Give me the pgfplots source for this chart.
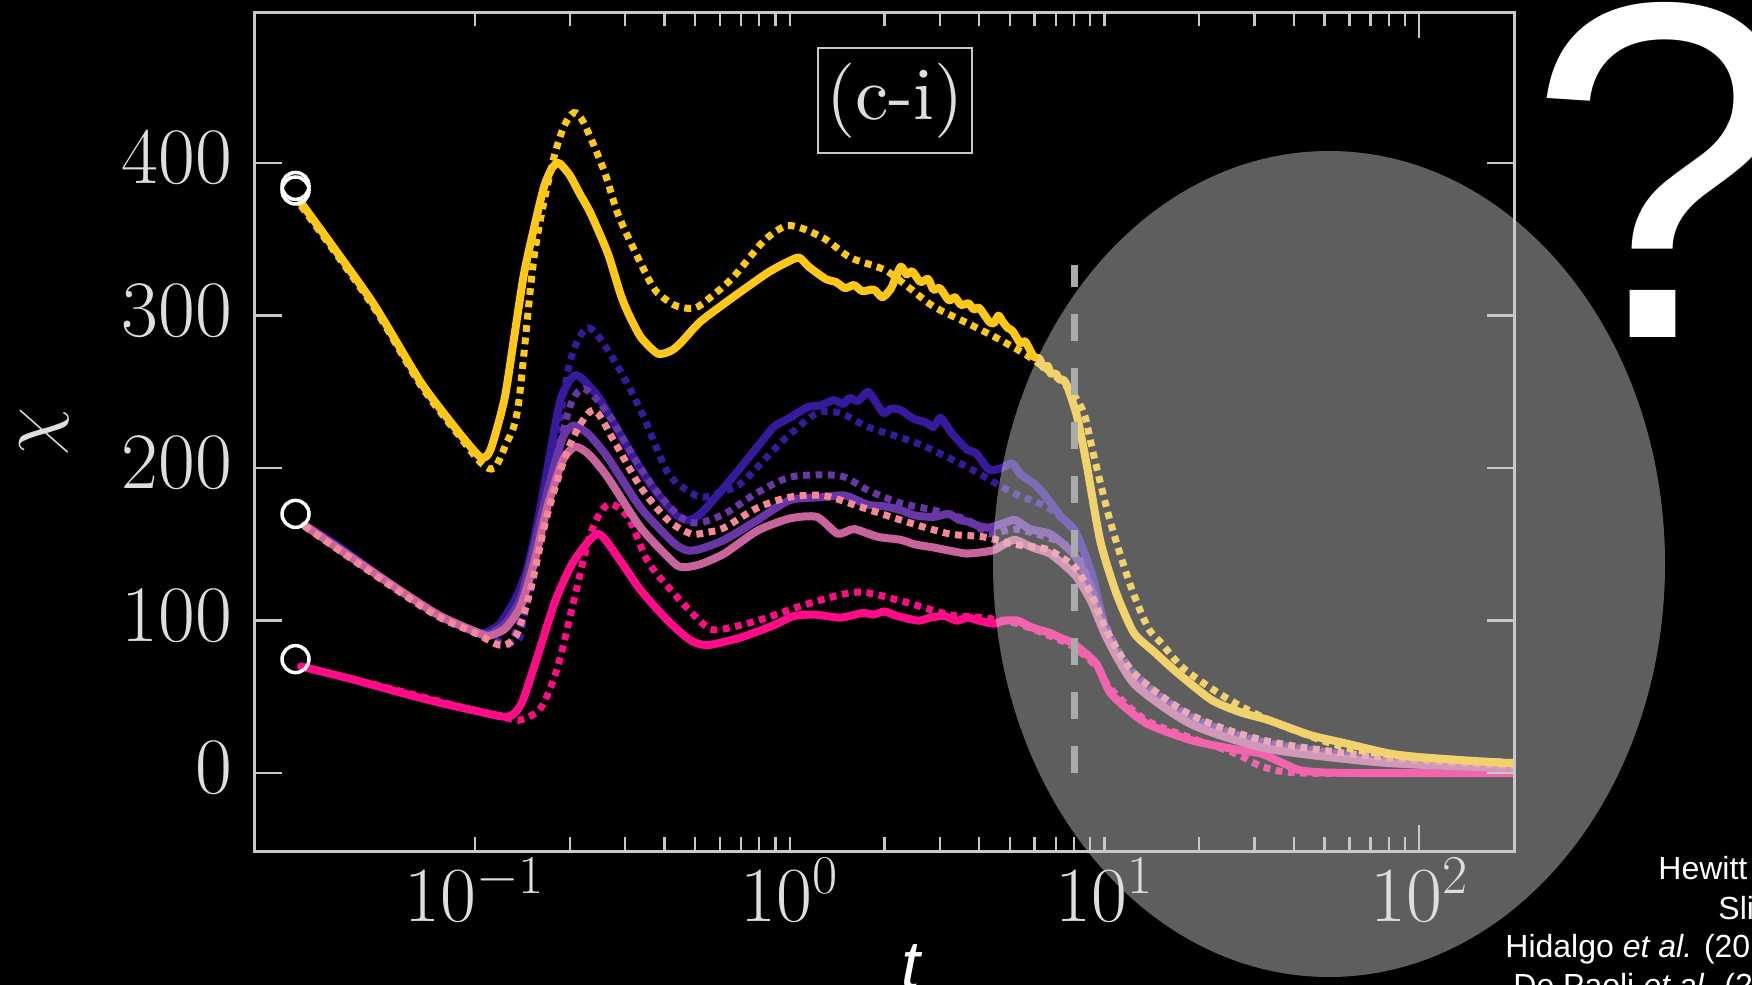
\RequirePackage{fix-cm}
\documentclass[border=0pt]{standalone}
\usepackage{fontspec}
\usepackage{pgfplots}
\pgfplotsset{compat=1.18}
\newfontfamily\arialfont{Liberation Sans}
\newfontfamily\lmten{lmroman10-regular}[Extension=.otf]
\definecolor{cYel}{RGB}{255,200,25}
\definecolor{cInd}{RGB}{55,25,155}
\definecolor{cPur}{RGB}{105,55,165}
\definecolor{cMau}{RGB}{200,100,155}
\definecolor{cLpk}{RGB}{245,135,150}
\definecolor{cHpk}{RGB}{255,10,135}
\definecolor{cAx}{RGB}{200,200,200}
\definecolor{cTxt}{RGB}{222,222,222}
\definecolor{cDash}{RGB}{170,170,170}
\definecolor{cEll}{RGB}{225,225,225}
\pgfplotsset{
  mybase/.style={
    at={(127.5pt,-425.5pt)}, anchor=south west,
    scale only axis, width=629.5pt, height=419.5pt,
    xmin=0.02, xmax=200, ymin=-51, ymax=499,
  },
  sol/.style={smooth, tension=0.4, line width=4pt, line join=round, line cap=round},
  dot/.style={smooth, line width=3.5pt, dash pattern=on 3.4pt off 2.8pt},
}
\begin{document}
\begin{tikzpicture}
\fill[black] (0,0) rectangle (876pt,-492.5pt);
\useasboundingbox (0,0) rectangle (876pt,-492.5pt);
\begin{semilogxaxis}[mybase, hide axis]
% hot pink dotted
\addplot[cHpk, dot] coordinates {(0.028,70) (0.055,55) (0.1,41) (0.127,36) (0.14,35) (0.162,43) (0.183,69.5) (0.206,113) (0.233,157) (0.264,176) (0.306,168) (0.354,139) (0.428,118) (0.53,98) (0.59,94) (0.79,100) (1.14,111) (1.64,118.7) (2.25,113) (3.2,104) (4.1,102) (5.3,98) (6.7,90) (7.95,83) (9.4,70) (10.5,55) (13.5,35) (18.9,23) (26,13) (29,8) (32,4) (37,1) (45,0) (76,0) (200,0)};
% hot pink solid
\addplot[cHpk, sol] coordinates {(0.028,70) (0.04,62) (0.06,52) (0.078,46) (0.1,41) (0.127,37) (0.14,45) (0.154,69.5) (0.18,113) (0.206,139) (0.246,157) (0.29,139) (0.336,120) (0.41,100) (0.485,87) (0.55,84) (0.70,89) (0.89,97) (1.03,103) (1.2,104) (1.45,102) (1.7,105) (1.85,104) (2.0,106) (2.2,103) (2.56,100) (2.8,102) (3.1,103) (3.4,100) (3.67,102) (4.0,100) (4.45,98) (4.8,100) (5.3,100) (5.8,96) (6.2,94) (6.7,92) (7.2,89) (7.95,85) (9.4,72) (10.5,52) (13.5,33) (18.9,21.6) (27,15) (31.3,13) (37,6.5) (41.6,2) (50,0.5) (76,0) (200,0)};
% indigo dotted
\addplot[cInd, dot] coordinates {(0.0287,162) (0.053,124) (0.076,103) (0.1,93) (0.12,86) (0.137,87) (0.143,102) (0.162,157) (0.18,212) (0.2,269) (0.229,292) (0.276,271) (0.336,238) (0.41,197) (0.485,184) (0.53,181) (0.6,184) (0.70,190) (0.89,212) (1.0,222) (1.22,236) (1.45,236) (1.77,227) (2.56,216) (3.67,200.6) (5.1,184) (6.5,175) (7.5,165) (8.2,155) (9.1,130) (10.2,95) (12.5,63) (18.9,36) (33,19) (76,9) (200,4)};
% indigo solid
\addplot[cInd, sol] coordinates {(0.0287,162.6) (0.0367,149) (0.053,125) (0.076,104) (0.097,94) (0.107,92) (0.12,98) (0.135,115) (0.147,135) (0.16,170) (0.17,200) (0.187,245) (0.209,261) (0.246,247) (0.297,218) (0.354,192) (0.428,170.5) (0.474,166) (0.52,170) (0.62,187.5) (0.79,214) (0.89,227) (1.0,233) (1.14,240) (1.25,241) (1.38,244.6) (1.48,242) (1.55,246) (1.65,244) (1.77,250) (1.88,243) (1.99,236) (2.1,239) (2.25,238) (2.4,234) (2.5,232) (2.7,230) (2.86,227) (3.0,233) (3.1,230) (3.3,222) (3.67,212) (3.9,210) (4.3,199) (4.7,200) (5.1,203) (5.4,196) (5.96,190) (6.3,185) (6.7,178) (7.3,168) (8.1,158) (9.1,131) (10.2,92) (12.5,59) (18.9,33) (33,17) (76,7) (200,3.3)};
% purple dotted
\addplot[cPur, dot] coordinates {(0.0287,162) (0.053,124) (0.076,103) (0.1,92) (0.12,85) (0.13,86) (0.145,110) (0.16,150) (0.18,200) (0.2,240) (0.222,252) (0.264,236) (0.32,207) (0.38,184) (0.45,168) (0.51,164) (0.62,170) (0.79,184) (1.0,194) (1.28,195.6) (1.5,194) (1.77,185.6) (2.25,177) (2.86,172.5) (3.67,166) (4.3,157) (5.2,160) (6.5,155) (7.5,150) (8.2,143) (9.1,122) (10.2,94) (12.5,65) (18.9,37) (33,20) (76,10) (200,4.5)};
% purple solid
\addplot[cPur, sol] coordinates {(0.0287,162.6) (0.053,125) (0.076,104) (0.097,94) (0.11,91) (0.125,98) (0.14,115) (0.155,150) (0.17,185) (0.19,220) (0.206,228) (0.23,222) (0.264,207) (0.336,174) (0.428,151) (0.474,146) (0.52,147) (0.62,153) (0.79,166) (1.0,179) (1.28,181) (1.5,182) (1.77,176) (2.0,175) (2.25,172.5) (2.5,169) (2.86,168) (3.2,170) (3.45,166) (3.67,165) (4.0,162) (4.3,161) (4.8,164) (5.2,166) (5.8,160) (6.7,157) (7.6,148) (8.2,140) (9.1,120) (10.2,90) (12.5,60) (18.9,33) (33,17) (76,7.5) (200,3.5)};
% mauve solid
\addplot[cMau, sol] coordinates {(0.0287,162.6) (0.053,125) (0.076,104) (0.097,94) (0.11,90) (0.125,95) (0.14,110) (0.155,140) (0.17,175) (0.19,205) (0.208,214) (0.23,209) (0.264,194) (0.336,161) (0.428,138) (0.46,135) (0.52,137) (0.62,144) (0.79,159) (1.0,167) (1.22,168) (1.42,157) (1.6,160) (1.9,155) (2.25,153) (2.5,150) (2.86,148) (3.2,146) (3.67,144) (4.4,146) (4.8,150) (5.2,153) (5.9,148) (6.7,144) (7.6,135) (8.2,128) (9.1,112) (10.2,88) (12.5,58) (18.9,32) (33,16) (76,7) (200,3)};
% light pink dotted
\addplot[cLpk, dot] coordinates {(0.0287,162) (0.053,124) (0.076,103) (0.1,92) (0.12,84) (0.135,90) (0.15,120) (0.17,170) (0.2,215) (0.237,238) (0.276,218) (0.336,187.5) (0.41,166) (0.485,157) (0.55,158) (0.62,161) (0.79,174) (1.0,181) (1.28,182) (1.6,176) (2.25,166) (3.2,157) (4.1,155) (5.2,150) (6.5,147) (7.5,140) (8.2,133) (9.1,117) (10.2,93) (12.5,65) (18.9,38) (33,21) (76,10.5) (200,5)};
% yellow dotted
\addplot[cYel, dot] coordinates {(0.028,372) (0.0468,308) (0.0674,254) (0.09,220) (0.105,203) (0.115,200) (0.125,215) (0.137,240) (0.154,338) (0.174,395) (0.19,422) (0.206,433) (0.222,426) (0.257,395) (0.284,367) (0.324,341) (0.367,319) (0.395,312) (0.44,306) (0.5,305) (0.56,312) (0.66,325) (0.81,347) (0.9,355) (0.986,359) (1.1,357) (1.3,350) (1.56,338) (2.0,330) (2.37,319) (2.86,306) (3.67,295) (4.67,284) (5.96,271) (7.64,253) (8.6,236) (9.2,210) (10.4,166) (12.0,125) (13.7,96) (15.2,85) (18,68) (25,48) (35,33) (58,17) (100,10) (200,7)};
% yellow solid
\addplot[cYel, sol] coordinates {(0.028,374) (0.0468,310) (0.0674,256) (0.09,222) (0.1045,207) (0.112,212) (0.124,245) (0.133,285) (0.143,327) (0.155,360) (0.166,385) (0.176,397) (0.185,400) (0.2,392) (0.215,380) (0.233,367) (0.264,341) (0.29,314) (0.306,302) (0.336,286) (0.381,275) (0.42,277) (0.45,282) (0.52,296) (0.66,312) (0.85,328) (0.98,335) (1.07,338) (1.15,332) (1.3,324) (1.4,322) (1.5,318) (1.6,320) (1.7,316) (1.85,317) (1.97,312) (2.1,318) (2.25,332) (2.35,327) (2.45,329) (2.6,322) (2.75,324) (2.86,317) (3.0,318) (3.2,310) (3.35,312) (3.5,307) (3.7,308) (3.84,304) (4.0,305) (4.3,296) (4.45,295) (4.6,300) (4.75,296) (4.92,292) (5.1,290) (5.4,282) (5.6,283) (5.96,273) (6.2,272) (6.4,266) (6.6,267) (6.75,262) (7.0,262) (7.2,258) (7.4,258) (7.64,253) (8.2,233) (8.8,201) (9.7,152) (10.9,118) (12.4,92) (14.3,80) (17,66) (21.9,48) (27,40) (33.2,34.8) (45,25) (58,19.7) (80,13) (101,10.5) (150,8) (200,6.5)};
\end{semilogxaxis}
\begin{scope}[x=0.5pt,y=-0.5pt]
\fill[cEll, fill opacity=0.42] (1329,564) ellipse [x radius=168pt, y radius=206.5pt];
\end{scope}
\begin{semilogxaxis}[mybase,
  axis line style={draw=cAx, line width=1.5pt},
  every tick/.style={draw=cAx, line width=1.2pt},
  major tick length=7pt, minor tick length=7pt,
  xtick={0.1,1,10,100},
  ytick=\empty,
  extra y ticks={0,100,200,300,400},
  extra y tick style={major tick length=13.5pt},
  extra x ticks={100}, extra x tick labels={},
  extra x tick style={major tick length=13pt},
  tick label style={font=\fontsize{39pt}{39pt}\selectfont, text=cTxt},
  yticklabel style={xshift=-8pt, yshift=2.5pt, font=\fontsize{40pt}{40pt}\selectfont},
  ylabel={$\chi$},
  ylabel style={at={(axis description cs:-0.167,0.5)}, anchor=center, font=\fontsize{39pt}{39pt}\selectfont, text=cTxt},
  xlabel={t},
  xlabel style={at={(axis description cs:0.5207,-0.1633)}, anchor=base, inner sep=0pt, font=\arialfont\itshape\fontsize{34pt}{34pt}\selectfont, text=white},
]
\addplot[cDash, line width=3.5pt, dash pattern=on 13.5pt off 13.5pt] coordinates {(8,0) (8,333)};
\addplot[only marks, mark=o, mark size=6.75pt, mark options={draw=white, line width=1.75pt}] coordinates {(0.0269,385) (0.0269,382) (0.0269,170) (0.0269,74.8)};
\end{semilogxaxis}
\begin{scope}[x=0.5pt,y=-0.5pt]
\node[draw=cAx, line width=1pt, minimum width=77pt, minimum height=52.5pt, inner sep=0pt, text=cTxt, font=\lmten\fontsize{37.5pt}{37.5pt}\selectfont] at (895,100.5) {(c-i)};
\node[anchor=base west, inner sep=0pt, text=white, font=\arialfont\fontsize{240pt}{240pt}\selectfont] at (1527,337) {?};
\begin{scope}
\clip (0,0) rectangle (1752,985);
\node[anchor=base west, inner sep=0pt, text=white, font=\arialfont\fontsize{16pt}{16pt}\selectfont] at (1658,879) {Hewitt et al. (2020)};
\node[anchor=base west, inner sep=0pt, text=white, font=\arialfont\fontsize{16pt}{16pt}\selectfont] at (1718,919) {Slim (2014)};
\node[anchor=base west, inner sep=0pt, text=white, font=\arialfont\fontsize{16pt}{16pt}\selectfont] at (1505,957) {Hidalgo \textit{et al.} (2015)};
\node[anchor=base west, inner sep=0pt, text=white, font=\arialfont\fontsize{16pt}{16pt}\selectfont] at (1513,996) {De Paoli \textit{et al.} (2022)};
\end{scope}
\end{scope}
\end{tikzpicture}
\end{document}
